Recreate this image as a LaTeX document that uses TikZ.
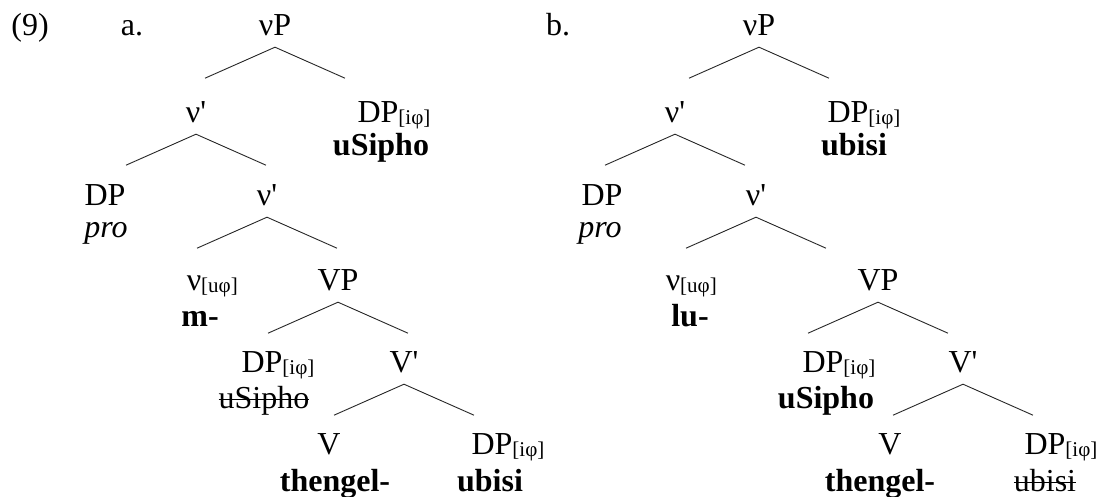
\documentclass[tikz,border=0pt]{standalone}
\usepackage{fontspec}
\setmainfont{Liberation Serif}[Ligatures=TeXOff]
\usetikzlibrary{calc}
% feature subscript that hangs out to the right of the label
\newcommand*{\feat}[1]{\rlap{\raisebox{-2pt}{\fontsize{21}{21}\selectfont[#1]}}}
% struck-out copy
\newsavebox{\strikebox}
\newcommand*{\strike}[1]{\sbox{\strikebox}{#1}%
    \rlap{\raisebox{0.24em}{\rule{\wd\strikebox}{1.1pt}}}\usebox{\strikebox}}

\tikzset{
  cat/.style={anchor=base, inner sep=0pt, text depth=12pt},
  word/.style={anchor=base, inner sep=0pt},
  branch/.style={line width=0.9pt, black!85},
}

\begin{document}
\begin{tikzpicture}[x=1pt, y=-1pt, font=\fontsize{32}{38}\selectfont]
    \useasboundingbox (0,0) rectangle (1098,496);

    \node[word] (ex) at (30,35) {(9)};
    \node[word] (la) at (132,35) {a.};
    \node[word] (lb) at (558,35) {b.};

    % tree a
    \node[cat] (a-vP) at (275,35) {νP};
    \node[cat] (a-v1) at (196,122) {ν'};
    \node[cat] (a-DPs) at (378,122) {DP\feat{iφ}};
    \node[word] (a-DPs-w) at (381,155) {\textbf{uSipho}};
    \node[cat] (a-DP) at (105,205) {DP};
    \node[word] (a-DP-w) at (106,237) {\textit{pro}};
    \node[cat] (a-v2) at (267,205) {ν'};
    \node[cat] (a-v) at (194,290) {ν\feat{uφ}};
    \node[word] (a-v-w) at (200,326) {\textbf{m-}};
    \node[cat] (a-VP) at (338,290) {VP};
    \node[cat] (a-DPo) at (262,372) {DP\feat{iφ}};
    \node[word] (a-DPo-w) at (264,408) {\strike{uSipho}};
    \node[cat] (a-V1) at (404,372) {V'};
    \node[cat] (a-V) at (329,454) {V};
    \node[word] (a-V-w) at (335,491) {\textbf{thengel-}};
    \node[cat] (a-DPi) at (492,454) {DP\feat{iφ}};
    \node[word] (a-DPi-w) at (490,491) {\textbf{ubisi}};

    % tree b
    \node[cat] (b-vP) at (759,35) {νP};
    \node[cat] (b-v1) at (675,122) {ν'};
    \node[cat] (b-DPs) at (848,122) {DP\feat{iφ}};
    \node[word] (b-DPs-w) at (854,155) {\textbf{ubisi}};
    \node[cat] (b-DP) at (602,205) {DP};
    \node[word] (b-DP-w) at (600,237) {\textit{pro}};
    \node[cat] (b-v2) at (756,205) {ν'};
    \node[cat] (b-v) at (673,290) {ν\feat{uφ}};
    \node[word] (b-v-w) at (690,326) {\textbf{lu-}};
    \node[cat] (b-VP) at (878,290) {VP};
    \node[cat] (b-DPo) at (823,372) {DP\feat{iφ}};
    \node[word] (b-DPo-w) at (826,408) {\textbf{uSipho}};
    \node[cat] (b-V1) at (963,372) {V'};
    \node[cat] (b-V) at (890,454) {V};
    \node[word] (b-V-w) at (880,491) {\textbf{thengel-}};
    \node[cat] (b-DPi) at (1045,454) {DP\feat{iφ}};
    \node[word] (b-DPi-w) at (1045,491) {\strike{ubisi}};

    % branches
    \foreach \p in {a-vP,a-v1,a-v2,a-VP,a-V1,b-vP,b-v1,b-v2,b-VP,b-V1}{
        \coordinate (\p-l) at ($(\p.south)+(-70,31)$);
        \coordinate (\p-r) at ($(\p.south)+(70,31)$);
        \draw[branch] (\p-l) -- (\p.south) -- (\p-r);
    }
\end{tikzpicture}
\end{document}
